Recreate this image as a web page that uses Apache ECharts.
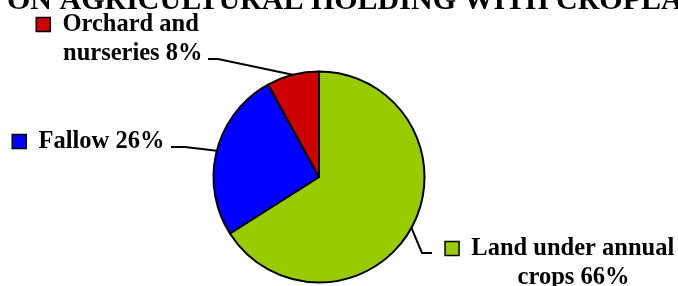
<!DOCTYPE html>
<html>
<head>
<meta charset="utf-8">
<script src="https://cdn.jsdelivr.net/npm/echarts@6/dist/echarts.min.js"></script>
<style>
  html, body { margin: 0; padding: 0; background: #fff; }
  #main { width: 678px; height: 286px; }
</style>
</head>
<body>
<div id="main"></div>
<script>
// 分类与占比
const categories = ['Land under annual crops', 'Fallow', 'Orchard and nurseries'];
const shares = [66, 26, 8];
const colors = ['#99CC00', '#0000FF', '#CC0000'];
// 标签分行
const labelText = [['Land under annual', 'crops'], ['Fallow'], ['Orchard and', 'nurseries']];
const titleText = 'ON AGRICULTURAL HOLDING WITH CROPLAND';

const FONT = '"Liberation Serif", "Times New Roman", serif';

// label placement (block anchor) and leader line offsets
const labelPos = [
  { x: 573.5, y: 234, align: 'center' },
  { x: 13, y: 127, align: 'left' },
  { x: 37, y: 10, align: 'left' }
];
const linePts = [
  { elbow: [422, 253], end: [432, 253] },
  { elbow: [185, 147], end: [171, 147] },
  { elbow: [218, 59], end: [208, 59] }
];

let rich = {
  t: { fontFamily: FONT, fontWeight: 'bold', fontSize: 24.5, lineHeight: 29, color: '#000' },
  gap: { width: 13 },
  pad: { width: 27 },
  ind: { width: 26 }
};
for (let i = 0; i < colors.length; i++) {
  rich['box' + i] = {
    width: 12.5, height: 12.5,
    backgroundColor: colors[i],
    borderColor: '#000', borderWidth: 1.5
  };
}

let pieData = [];
for (let i = 0; i < categories.length; i++) {
  pieData.push({ name: categories[i], value: shares[i], itemStyle: { color: colors[i] } });
}

const myChart = echarts.init(document.getElementById('main'));

const option = {
  backgroundColor: '#fff',
  animation: false,
  title: {
    text: titleText,
    left: 7,
    top: -14,
    padding: 0,
    textStyle: { fontFamily: FONT, fontWeight: 'bold', fontSize: 30, color: '#000' }
  },
  series: [
    {
      type: 'pie',
      center: [319, 177],
      radius: 105.5,
      startAngle: 90,
      clockwise: true,
      avoidLabelOverlap: false,
      emphasis: { disabled: true },
      itemStyle: { borderColor: '#000', borderWidth: 2 },
      data: pieData,
      label: {
        show: true,
        position: 'outside',
        alignTo: 'none',
        width: 320,
        overflow: 'none',
        rich: rich,
        formatter: function (p) {
          const i = p.dataIndex;
          const lines = labelText[i].slice();
          lines[lines.length - 1] += ' ' + p.value + '%';
          if (i === 0) {
            return '{box0|}{gap|}{t|' + lines[0] + '}{pad|}\n{t|' + lines[1] + '}';
          } else if (i === 1) {
            return '{box1|}{gap|}{t|' + lines[0] + '}';
          }
          return '{box2|}{gap|}{t|' + lines[0] + '}\n{ind|}{t|' + lines[1] + '}';
        }
      },
      labelLine: {
        show: true,
        length: 10,
        length2: 10,
        lineStyle: { color: '#000', width: 2 }
      },
      labelLayout: function (params) {
        const i = params.dataIndex;
        const pos = labelPos[i];
        const start = params.labelLinePoints ? params.labelLinePoints[0] : linePts[i].elbow;
        return {
          x: pos.x,
          y: pos.y,
          align: pos.align,
          verticalAlign: 'top',
          labelLinePoints: [start, linePts[i].elbow, linePts[i].end]
        };
      }
    }
  ]
};

myChart.setOption(option);
</script>
</body>
</html>
